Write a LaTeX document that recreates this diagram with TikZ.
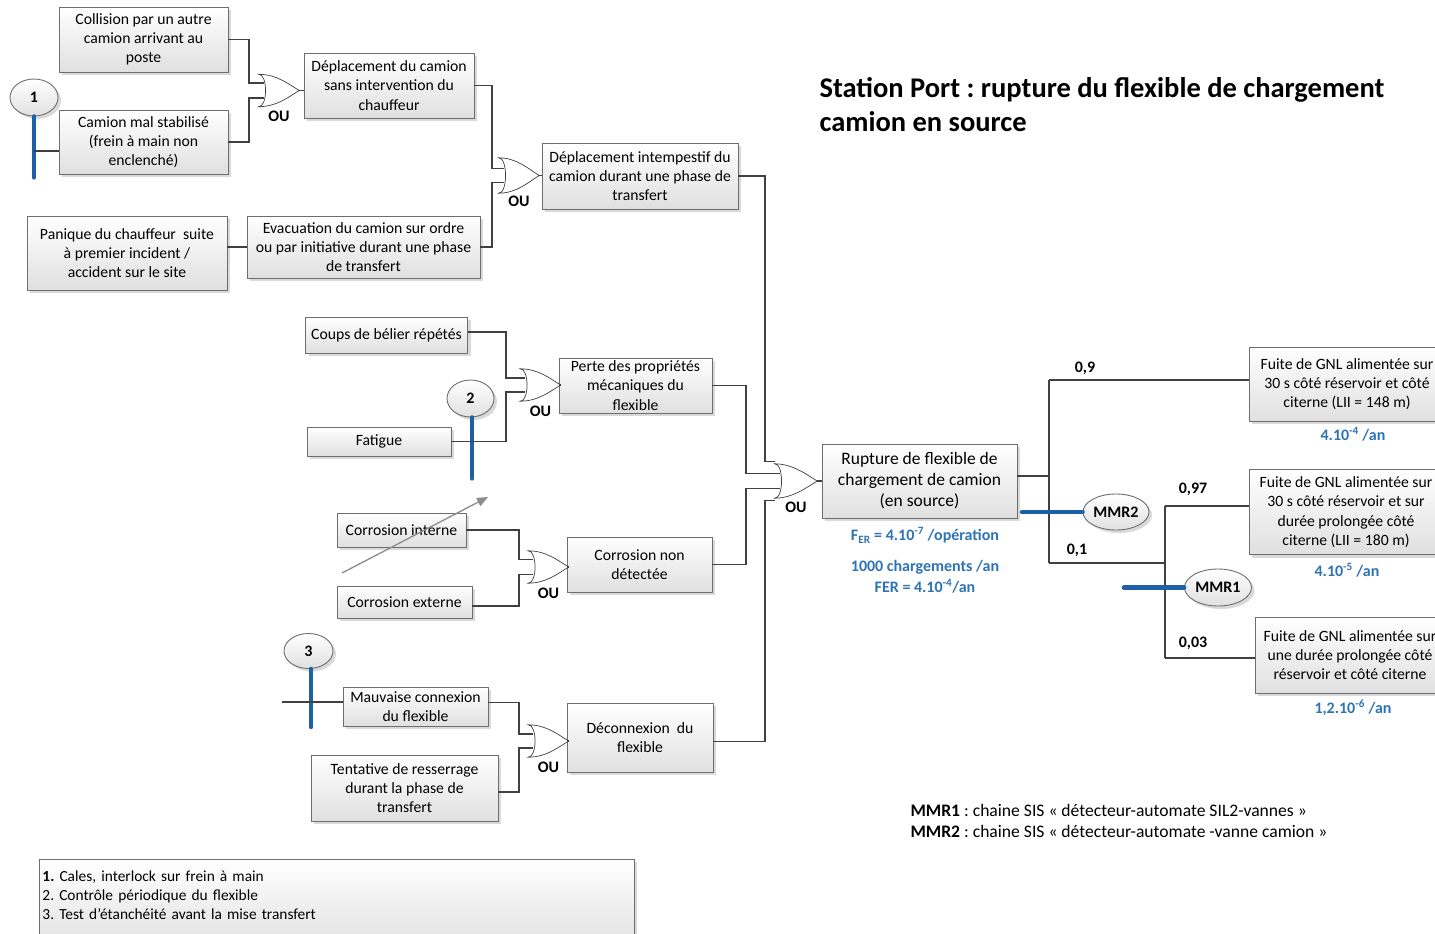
\documentclass[tikz,border=0pt]{standalone}
\usepackage{fontspec}
\setmainfont{Carlito}
\usetikzlibrary{shapes.geometric,shadows,arrows.meta}
\definecolor{wirecol}{RGB}{64,64,64}
\definecolor{boxline}{RGB}{110,110,110}
\definecolor{boxbot}{RGB}{224,224,224}
\definecolor{sisblue}{RGB}{46,116,181}
\definecolor{barblue}{RGB}{30,96,166}
\definecolor{arrowgray}{RGB}{140,140,140}
\tikzset{
  fs/.style={font=\fontsize{15.7}{19.3}\selectfont},
  softshadow/.style={drop shadow={shadow xshift=3pt, shadow yshift=-3pt, fill=black, opacity=0.15}},
  box/.style={draw=boxline, line width=0.9pt, top color=white, bottom color=boxbot,
    align=center, fs, inner xsep=3pt, inner ysep=0pt, softshadow},
  wire/.style={draw=wirecol, line width=1.3pt},
  gatebody/.style={rectangle, minimum width=40pt, minimum height=32pt, inner sep=0pt},
  gateline/.style={draw=wirecol, line width=0.7pt, fill=white},
  oulab/.style={font=\fontsize{16}{19}\selectfont\bfseries},
  barrier/.style={ellipse, draw=boxline, line width=0.9pt, top color=white, bottom color=boxbot,
    minimum width=48pt, minimum height=37pt, inner sep=0pt,
    font=\fontsize{16}{19}\selectfont\bfseries, softshadow},
  bar/.style={draw=barblue, line width=4.5pt, line cap=round},
  freq/.style={text=sisblue, font=\fontsize{16}{19.5}\selectfont\bfseries},
  prob/.style={font=\fontsize{16}{19}\selectfont\bfseries},
}
% outline of an OR gate drawn around a named gate body node,
% with two input points (#1-a, #1-b) on its concave back
\newcommand\orshape[2]{%
  \draw[gateline] (#1.north west)
    .. controls ([xshift=9pt]#1.north west) and ([xshift=9pt]#1.south west) .. (#1.south west)
    .. controls ([xshift=18pt]#1.south west) and ([xshift=-10pt,yshift=-6pt]#1.east) .. (#1.east)
    .. controls ([xshift=-10pt,yshift=6pt]#1.east) and ([xshift=18pt]#1.north west) .. (#1.north west)
    -- cycle;
  \coordinate (#1-a) at ([xshift=5pt,yshift=#2]#1.west);
  \coordinate (#1-b) at ([xshift=5pt,yshift=-#2]#1.west);
  \node[oulab] at ([yshift=-26pt]#1.center) {OU};}
\begin{document}
\frenchspacing
\begin{tikzpicture}[x=1pt, y=-1pt]
\fill[white] (0,0) rectangle (1435,934);
\useasboundingbox (0,0) rectangle (1435,934);

% ---- events: left part of the fault tree
\node[box, minimum width=169pt, minimum height=65pt] (coll) at (143.5,39.5) {Collision par un autre\\camion arrivant au\\poste};
\node[box, minimum width=169pt, minimum height=64pt] (cams) at (143.5,142) {Camion mal stabilisé\\(frein à main non\\enclenché)};
\node[box, minimum width=170pt, minimum height=65pt] (depl) at (389,85.5) {Déplacement du camion\\sans intervention du\\chauffeur};
\node[box, minimum width=196pt, minimum height=66pt] (depi) at (640,176) {Déplacement intempestif du\\camion durant une phase de\\transfert};
\node[box, minimum width=200pt, minimum height=74pt] (pani) at (127,253) {Panique du chauffeur\ \ suite\\à premier incident /\\accident sur le site};
\node[box, minimum width=233pt, minimum height=62pt] (evac) at (363.5,247) {Evacuation du camion sur ordre\\ou par initiative durant une phase\\de transfert};

\node[box, minimum width=162pt, minimum height=36pt] (coup) at (386.5,335) {Coups de bélier répétés};
\node[box, minimum width=144pt, minimum height=29pt] (fati) at (379,441.5) {Fatigue};
\node[box, minimum width=153pt, minimum height=55pt] (pert) at (635.5,385.5) {Perte des propriétés\\mécaniques du\\flexible};
\node[box, minimum width=129pt, minimum height=34pt] (cint) at (401.5,530) {Corrosion interne};
\node[box, minimum width=135pt, minimum height=32pt] (cext) at (404.5,602) {Corrosion externe};
\node[box, minimum width=145pt, minimum height=55pt] (cnon) at (639.5,564.5) {Corrosion non\\détectée};
\node[box, minimum width=145pt, minimum height=39pt] (mauv) at (415.5,706.5) {Mauvaise connexion\\du flexible};
\node[box, minimum width=187pt, minimum height=66pt] (tent) at (404.5,788) {Tentative de resserrage\\durant la phase de\\transfert};
\node[box, minimum width=146pt, minimum height=69pt] (deco) at (640,737.5) {Déconnexion\ \ du\\flexible};
\node[box, minimum width=195pt, minimum height=74pt, font=\fontsize{17.5}{21}\selectfont] (rupt) at (919.5,481) {Rupture de flexible de\\chargement de camion\\(en source)};

% ---- events: consequences
\node[box, minimum width=196pt, minimum height=74pt] (f1) at (1347,384) {Fuite de GNL alimentée sur\\30 s côté réservoir et côté\\citerne (LII = 148 m)};
\node[box, minimum width=194pt, minimum height=85pt] (f2) at (1346,512) {Fuite de GNL alimentée sur\\30 s côté réservoir et sur\\durée prolongée côté\\citerne (LII = 180 m)};
\node[box, minimum width=190pt, minimum height=76pt] (f3) at (1350,655) {Fuite de GNL alimentée sur\\une durée prolongée côté\\réservoir et côté citerne};

% ---- OR gates
\node[gatebody] (g1) at (279,90.5) {};
\orshape{g1}{7.5pt}
\node[gatebody, minimum height=35pt] (g2) at (519,175.5) {};
\orshape{g2}{7pt}
\node[gatebody] (g3) at (540.5,385) {};
\orshape{g3}{7pt}
\node[gatebody] (g4) at (548.5,567) {};
\orshape{g4}{7.5pt}
\node[gatebody] (g5) at (548.5,741) {};
\orshape{g5}{7pt}
\node[gatebody, minimum width=42pt, minimum height=34pt] (g6) at (796,481) {};
\orshape{g6}{7.5pt}

% junction abscissae
\coordinate (j1) at (249,0);
\coordinate (j2) at (492,0);
\coordinate (j3) at (506,0);
\coordinate (j4) at (519,0);
\coordinate (j6a) at (765,0);
\coordinate (j6b) at (746,0);

% ---- barriers (drawn before the wires that cross them)
\node[barrier] (b1) at (34,97.5) {1};
\draw[bar] (b1.south) -- ++(0,61);
\node[barrier, minimum width=47pt] (b2) at (470.5,398.5) {2};
\draw[bar] ([xshift=1.5pt]b2.south) -- ++(0,61);
\node[barrier, minimum width=49pt, minimum height=35pt] (b3) at (308.5,651) {3};
\draw[bar] ([xshift=2.5pt]b3.south) -- ++(0,58);
\coordinate (l1) at (34,151);
\coordinate (l3) at (282,702);

% ---- wires
\draw[wire] (l1) -- (l1 -| cams.west);
\draw[wire] (coll.east) -| (j1 |- g1-a) -- (g1-a);
\draw[wire] (cams.east) -| (j1 |- g1-b) -- (g1-b);
\draw[wire] (g1.east) -- (g1.east -| depl.west);

\draw[wire] (evac.west -| pani.east) -- (evac.west);
\draw[wire] (depl.east) -| (j2 |- g2-a) -- (g2-a);
\draw[wire] (evac.east) -| (j2 |- g2-b) -- (g2-b);
\draw[wire] (g2.east) -- (g2.east -| depi.west);

\draw[wire] ([yshift=3pt]coup.east) -| (j3 |- g3-a) -- (g3-a);
\draw[wire] (fati.east) -| (j3 |- g3-b) -- (g3-b);
\draw[wire] (g3.east) -- (g3.east -| pert.west);

\draw[wire] (cint.east) -| (j4 |- g4-a) -- (g4-a);
\draw[wire] ([yshift=-4pt]cext.east) -| (j4 |- g4-b) -- (g4-b);
\draw[wire] (g4.east) -- (g4.east -| cnon.west);

\draw[wire] (l3) -- (l3 -| mauv.west);
\draw[wire] ([yshift=4pt]mauv.east) -| (j4 |- g5-a) -- (g5-a);
\draw[wire] ([yshift=-4pt]tent.east) -| (j4 |- g5-b) -- (g5-b);
\draw[wire] (g5.east) -- (g5.east -| deco.west);

\draw[wire] (depi.east) -| ([yshift=2pt]j6a |- g6.north west) -- ([yshift=2pt]g6.north west);
\draw[wire] (pert.east) -| (j6b |- g6-a) -- (g6-a);
\draw[wire] (cnon.east) -| (j6b |- g6-b) -- (g6-b);
\draw[wire] ([yshift=-4pt]deco.east) -| ([yshift=-2pt]j6a |- g6.south west) -- ([yshift=-2pt]g6.south west);
\draw[wire] (g6.east) -- (g6.east -| rupt.west);

% ---- event tree
\coordinate (t1) at (1049,380);
\coordinate (t2) at (1049,563);
\coordinate (t3) at (1165,506);
\coordinate (t4) at (1165,658);
\draw[wire] ([yshift=5pt]rupt.east) -- ([yshift=5pt]rupt.east -| t1);
\draw[wire] (t1) -- (t2);
\draw[wire] (t1) -- (t1 -| f1.west);
\draw[wire] (t2) -- (t2 -| t3);
\draw[wire] (t3) -- (t4);
\draw[wire] (t3) -- (t3 -| f2.west);
\draw[wire] (t4) -- (t4 -| f3.west);

\node[prob] at (1085,368) {0,9};
\node[prob] at (1077,550) {0,1};
\node[prob] at (1193,489) {0,97};
\node[prob] at (1193,643) {0,03};

\node[barrier, minimum width=66pt, minimum height=36pt] (mmr2) at (1116,512) {MMR2};
\node[barrier, minimum width=67pt, minimum height=37pt] (mmr1) at (1218,587.5) {MMR1};
\coordinate (m2) at (1022,512);
\coordinate (m1) at (1124,587.5);
\draw[bar] (m2) -- (mmr2.west);
\draw[bar] (m1) -- (mmr1.west);

% ---- frequencies
\node[freq] at (925,535) {F\textsubscript{ER} = 4.10\textsuperscript{-7} /opération};
\node[freq] at (925,567) {1000 chargements /an};
\node[freq] at (925,586) {FER = 4.10\textsuperscript{-4}/an};
\node[freq] at (1353,434) {4.10\textsuperscript{-4} /an};
\node[freq] at (1347,570) {4.10\textsuperscript{-5} /an};
\node[freq] at (1353,708) {1,2.10\textsuperscript{-6} /an};

% ---- barrier influence arrow
\coordinate (a0) at (342,573);
\coordinate (a1) at (488,497);
\draw[draw=arrowgray, line width=1.3pt, -{Triangle[length=11pt,width=9pt]}] (a0) -- (a1);

% ---- title and legends
\node[anchor=west, align=left, font=\fontsize{28.5}{34}\selectfont\bfseries] (title) at (816,105) {Station Port : rupture du flexible de chargement\\camion en source};
\node[anchor=west, align=left, font=\fontsize{17.6}{21}\selectfont] (mmrleg) at (907,820.5) {\textbf{MMR1} : chaine SIS « détecteur-automate SIL2-vannes »\\\textbf{MMR2} : chaine SIS « détecteur-automate -vanne camion »};
\node[box, anchor=north west, align=left, text width=589pt, minimum height=91pt, font=\fontsize{15.4}{19}\selectfont] (leg) at (39,859) {\textbf{1.} Cales, interlock sur frein à main\\2. Contrôle périodique du flexible\\3. Test d’étanchéité avant la mise transfert\\\mbox{}};
\end{tikzpicture}
\end{document}
